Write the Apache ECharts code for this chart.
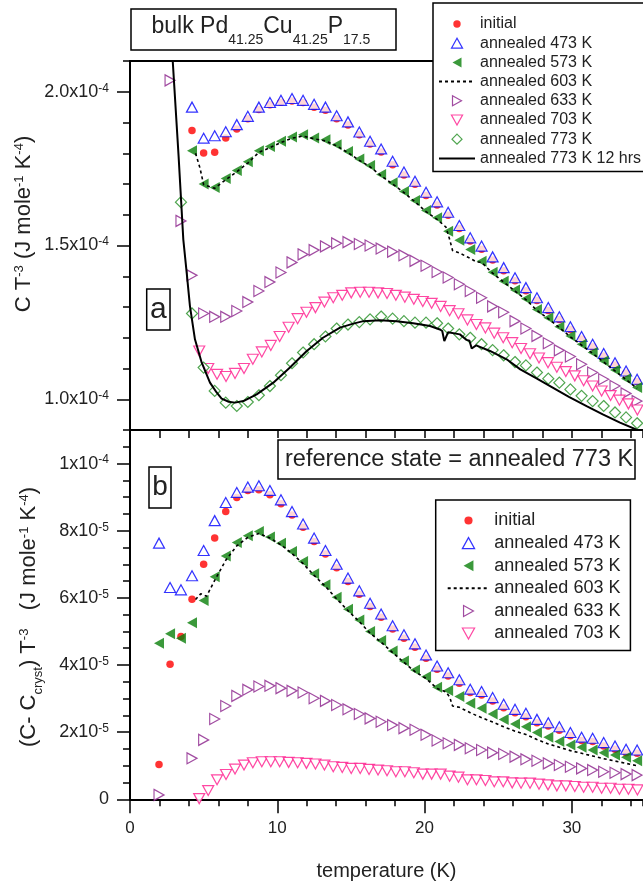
<!DOCTYPE html>
<html><head><meta charset="utf-8">
<script src="https://cdn.jsdelivr.net/npm/echarts@6/dist/echarts.min.js"></script>
<style>html,body{margin:0;padding:0;background:#fff}#c{width:643px;height:887px}</style>
</head><body><div id="c"></div><script>
// ---------- DATA ----------
// temperature grid (K) for most series
const T = [1.97, 2.72, 3.46, 4.21, 5.00, 5.75, 6.50, 7.25, 8.00, 8.75, 9.50, 10.25, 11.00, 11.75, 12.50, 13.27, 14.03, 14.80, 15.57, 16.30, 17.05, 17.83, 18.60, 19.35, 20.10, 20.85, 21.60, 22.36, 23.10, 23.87, 24.62, 25.37, 26.14, 26.88, 27.63, 28.40, 29.15, 29.90, 30.66, 31.41, 32.16, 32.93, 33.68, 34.43];
// temperature grid (K) for annealed 703 K
const Tp = [4.70,5.31,5.91,6.52,7.13,7.74,8.34,8.95,9.56,10.16,10.77,11.38,11.98,12.59,13.20,13.80,14.41,15.02,15.63,16.23,16.84,17.45,18.05,18.66,19.27,19.88,20.48,21.09,21.70,22.30,22.91,23.52,24.13,24.73,25.34,25.95,26.55,27.16,27.77,28.38,28.98,29.59,30.20,30.80,31.41,32.02,32.63,33.23,33.84,34.45];

// panel a : C T^-3 in units of 1e-4 J mole^-1 K^-4
const aInitial = [null,null,null,1.874,1.801,1.803,1.850,1.879,1.912,1.942,1.958,1.966,1.970,1.965,1.950,1.940,1.912,1.892,1.860,1.830,1.804,1.763,1.729,1.699,1.663,1.632,1.598,1.555,1.515,1.488,1.453,1.418,1.385,1.353,1.321,1.289,1.259,1.227,1.196,1.171,1.141,1.111,1.085,1.058];
const aA473 = [null,null,null,1.950,1.849,1.857,1.870,1.893,1.920,1.950,1.965,1.972,1.978,1.972,1.959,1.950,1.922,1.902,1.869,1.839,1.814,1.774,1.739,1.709,1.673,1.642,1.608,1.565,1.525,1.498,1.463,1.428,1.395,1.363,1.330,1.298,1.268,1.236,1.204,1.179,1.149,1.119,1.092,1.065];
const aA573 = [null,null,null,1.808,1.700,1.689,1.718,1.744,1.772,1.808,1.822,1.839,1.853,1.860,1.850,1.844,1.828,1.806,1.781,1.760,1.731,1.704,1.676,1.646,1.614,1.590,1.546,1.517,1.487,1.449,1.413,1.384,1.355,1.327,1.292,1.265,1.236,1.206,1.179,1.152,1.124,1.095,1.067,1.038];
const aT603 = [4.45,4.75,5.00,5.75,6.50,7.25,8.00,8.75,9.50,10.25,11.00,11.75,12.50,13.27,14.03,14.80,15.57,16.30,17.05,17.83,18.60,19.35,20.10,20.85,21.45,21.70,21.90,22.36,23.10,23.50,23.87,24.62,25.37,26.14,26.88,27.63,28.40,29.15,29.90,30.66,31.41,32.16,32.93,33.68,34.43];
const aA603 = [1.800,1.752,1.698,1.686,1.714,1.740,1.768,1.803,1.818,1.835,1.849,1.856,1.847,1.840,1.824,1.802,1.777,1.756,1.727,1.700,1.672,1.642,1.610,1.585,1.560,1.520,1.484,1.476,1.458,1.447,1.445,1.410,1.381,1.352,1.324,1.289,1.262,1.233,1.203,1.176,1.149,1.121,1.092,1.064,1.035];
const aA633 = [null,2.037,1.580,1.403,1.279,1.268,1.268,1.287,1.316,1.352,1.381,1.412,1.445,1.471,1.485,1.497,1.507,1.511,1.505,1.500,1.490,1.480,1.468,1.450,1.434,1.414,1.396,1.374,1.352,1.330,1.302,1.283,1.254,1.230,1.206,1.182,1.159,1.139,1.114,1.087,1.065,1.043,1.019,0.994];
const aA703 = [1.157,1.100,1.081,1.074,1.084,1.100,1.130,1.154,1.175,1.204,1.234,1.262,1.283,1.298,1.316,1.330,1.338,1.346,1.348,1.348,1.346,1.344,1.338,1.332,1.325,1.318,1.312,1.302,1.288,1.278,1.258,1.243,1.232,1.215,1.200,1.184,1.165,1.148,1.134,1.119,1.104,1.090,1.076,1.060,1.043,1.027,1.012,0.997,0.985,0.965];
const aA773 = [null,null,1.641,1.279,1.103,1.027,0.989,0.978,0.991,1.013,1.043,1.078,1.117,1.152,1.179,1.204,1.230,1.243,1.251,1.260,1.269,1.262,1.254,1.249,1.249,1.247,1.230,1.211,1.200,1.179,1.160,1.143,1.121,1.110,1.087,1.067,1.054,1.032,1.011,0.994,0.978,0.957,0.941,0.922];
const aT773h = [2.85,3.30,3.62,3.85,4.07,4.41,4.87,5.43,5.88,6.22,6.70,7.13,7.70,8.60,9.73,10.86,12.00,13.10,14.26,15.16,15.84,16.97,18.10,19.23,20.37,21.04,21.20,21.34,21.60,22.40,22.85,23.05,23.20,23.50,24.44,25.57,26.50,27.60,28.70,29.80,31.00,32.10,33.27,34.60,35.50];
const aA773h = [2.14,1.79,1.519,1.411,1.303,1.195,1.119,1.054,1.022,1.002,0.992,0.989,0.994,1.016,1.054,1.103,1.157,1.200,1.233,1.246,1.254,1.257,1.254,1.247,1.238,1.227,1.222,1.189,1.218,1.211,1.193,1.190,1.165,1.175,1.157,1.130,1.097,1.068,1.038,1.008,0.978,0.951,0.924,0.897,0.876];

// panel b : (C - Ccryst) T^-3 in units of 1e-5 J mole^-1 K^-4
const bInitial = [1.04,4.02,4.85,5.96,7.00,7.78,8.57,8.99,9.20,9.22,9.07,8.80,8.47,8.10,7.68,7.31,6.90,6.49,6.11,5.74,5.42,5.07,4.80,4.53,4.20,3.87,3.67,3.46,3.18,3.11,2.93,2.73,2.58,2.46,2.28,2.18,2.06,1.89,1.75,1.72,1.59,1.49,1.39,1.37];
const bA473 = [7.63,6.31,6.24,6.66,7.41,8.30,8.84,9.14,9.30,9.34,9.20,8.92,8.57,8.20,7.78,7.41,7.00,6.59,6.21,5.84,5.52,5.17,4.90,4.63,4.30,3.97,3.77,3.56,3.28,3.21,3.03,2.83,2.68,2.56,2.38,2.28,2.16,1.99,1.85,1.82,1.69,1.59,1.49,1.47];
const bA573 = [4.65,4.93,4.80,5.26,5.92,6.63,7.25,7.65,7.85,7.98,7.81,7.63,7.38,7.08,6.72,6.39,6.02,5.66,5.34,5.00,4.73,4.42,4.12,3.85,3.65,3.34,3.24,3.06,2.86,2.71,2.54,2.38,2.24,2.16,1.99,1.85,1.72,1.62,1.55,1.47,1.39,1.32,1.25,1.15];
const bT603 = [4.45,4.80,5.20,5.75,6.50,7.25,8.00,8.75,9.50,10.25,11.00,11.75,12.50,13.27,14.03,14.80,15.57,16.30,17.05,17.83,18.60,19.35,20.10,20.85,21.45,21.70,21.90,22.36,23.10,23.50,24.62,25.37,26.14,26.88,27.63,28.40,29.15,29.90,30.66,31.41,32.16,32.93,33.68,34.43];
const bA603 = [5.95,6.12,6.05,6.52,7.12,7.55,7.80,7.92,7.78,7.58,7.32,7.02,6.67,6.34,5.97,5.62,5.29,4.95,4.68,4.37,4.08,3.80,3.60,3.30,3.20,3.05,2.78,2.74,2.58,2.50,2.30,2.16,2.03,1.93,1.78,1.65,1.55,1.45,1.37,1.29,1.21,1.14,1.07,1.00];
const bA633 = [0.13,null,null,1.22,1.77,2.39,2.78,3.08,3.26,3.36,3.38,3.31,3.23,3.18,3.01,2.93,2.81,2.68,2.54,2.41,2.31,2.21,2.12,2.07,1.92,1.75,1.67,1.62,1.52,1.47,1.39,1.35,1.27,1.19,1.15,1.07,1.02,0.97,0.92,0.87,0.82,0.79,0.75,0.72];
const bA703 = [0.02,0.26,0.58,0.74,0.90,1.02,1.09,1.12,1.12,1.12,1.10,1.09,1.07,1.05,1.02,0.97,0.95,0.92,0.92,0.89,0.87,0.85,0.82,0.82,0.79,0.75,0.75,0.75,0.69,0.66,0.58,0.58,0.56,0.52,0.52,0.49,0.48,0.48,0.45,0.43,0.40,0.40,0.38,0.36,0.36,0.33,0.33,0.30,0.30,0.28];

// tick values / labels
const xTicks = [0, 10, 20, 30];
const yTopMajor = [1.0, 1.5, 2.0];
const yTopLabels = ['1.0x10|-4', '1.5x10|-4', '2.0x10|-4'];
const yBotMajor = [0, 2, 4, 6, 8, 10];
const yBotLabels = ['0', '2x10|-5', '4x10|-5', '6x10|-5', '8x10|-5', '1x10|-4'];

const names = ['initial', 'annealed 473 K', 'annealed 573 K', 'annealed 603 K', 'annealed 633 K', 'annealed 703 K', 'annealed 773 K', 'annealed 773 K 12 hrs'];

// ---------- STYLE ----------
const XMAX = 34.83; // visible right edge of the plot (the frame is cut by the picture)
const FONT = '"Liberation Sans", Arial, Helvetica, sans-serif';
const TXT = '#222';
const C_RED = '#ff0000', C_BLUE = '#0000ff', C_GREEN = '#0a800a', C_PURPLE = '#8a1f8a', C_PINK = '#ff1a8c', C_DIAM = '#238f23';
const S_UP = 'path://M0,9L5,0L10,9Z';
const S_DOWN = 'path://M0,0L10,0L5,9Z';
const S_LEFT = 'path://M9,0L9,10L0,5Z';
const S_RIGHT = 'path://M0,0L9,5L0,10Z';
const S_DIAM = 'path://M5,0L10,5L5,10L0,5Z';
const ICON_DOT = 'path://M0,0M10,10M1.3,5A3.7,3.7,0,1,1,8.7,5A3.7,3.7,0,1,1,1.3,5Z';

function pairs(xs, ys) { const out = []; for (let i = 0; i < xs.length; i++) if (ys[i] != null) out.push([xs[i], ys[i]]); return out; }
function sc(name, panel, data, sym, size, color, filled) {
  return { type: 'scatter', name, xAxisIndex: panel ? 2 : 0, yAxisIndex: panel ? 2 : 0, data, symbol: sym, symbolSize: size,
    itemStyle: filled ? { color } : { color: '#fff', borderColor: color, borderWidth: 1.2 },
    emphasis: { disabled: true }, silent: true };
}
function ln(name, panel, data, type, width) {
  return { type: 'line', name, xAxisIndex: panel ? 2 : 0, yAxisIndex: panel ? 2 : 0, data, symbol: 'none', showSymbol: false,
    color: '#000', itemStyle: { color: '#000', opacity: 0 }, lineStyle: { color: '#000', width, type },
    emphasis: { disabled: true }, silent: true };
}
const axLine = { show: true, onZero: false, lineStyle: { color: '#000', width: 2 } };
const tkLine = { color: '#000', width: 1.5 };
const labRich = { b: { fontSize: 18, color: TXT, fontFamily: FONT }, p: { fontSize: 12, color: TXT, fontFamily: FONT, padding: [0, 0, 7, 0] } };
function richLab(str) { const parts = str.split('|'); return parts.length > 1 ? '{b|' + parts[0] + '}{p|' + parts[1] + '}' : '{b|' + parts[0] + '}'; }

const series = [
  sc(names[0], 0, pairs(T, aInitial), 'circle', 7.5, C_RED, true),
  sc(names[1], 0, pairs(T, aA473), S_UP, [11, 10], C_BLUE, false),
  sc(names[2], 0, pairs(T, aA573), S_LEFT, [10, 11], C_GREEN, true),
  ln(names[3], 0, pairs(aT603, aA603), [3, 3], 1.6),
  sc(names[4], 0, pairs(T, aA633), S_RIGHT, [10, 11], C_PURPLE, false),
  sc(names[5], 0, pairs(Tp, aA703), S_DOWN, [11, 10], C_PINK, false),
  sc(names[6], 0, pairs(T, aA773), S_DIAM, 11, C_DIAM, false),
  ln(names[7], 0, pairs(aT773h, aA773h), 'solid', 2),
  sc(names[0], 1, pairs(T, bInitial), 'circle', 7.5, C_RED, true),
  sc(names[1], 1, pairs(T, bA473), S_UP, [11, 10], C_BLUE, false),
  sc(names[2], 1, pairs(T, bA573), S_LEFT, [10, 11], C_GREEN, true),
  ln(names[3], 1, pairs(bT603, bA603), [3, 3], 1.6),
  sc(names[4], 1, pairs(T, bA633), S_RIGHT, [10, 11], C_PURPLE, false),
  sc(names[5], 1, pairs(Tp, bA703), S_DOWN, [11, 10], C_PINK, false)
];

function legendData(list) { return list.map(n => n === 'initial' ? { name: n, icon: ICON_DOT } : { name: n }); }

const option = {
  animation: false,
  backgroundColor: '#fff',
  textStyle: { fontFamily: FONT },
  grid: [
    { left: 130, top: 61, right: 0, height: 369 },
    { left: 130, top: 430, right: 0, height: 369.3 }
  ],
  xAxis: [
    { gridIndex: 0, type: 'value', min: 0, max: XMAX, interval: 2, position: 'bottom', axisLine: axLine,
      axisTick: { show: true, length: 8, lineStyle: tkLine }, axisLabel: { show: false }, splitLine: { show: false } },
    { gridIndex: 0, type: 'value', min: 0, max: XMAX, position: 'top', axisLine: axLine, axisTick: { show: false },
      axisLabel: { show: false }, splitLine: { show: false } },
    { gridIndex: 1, type: 'value', min: 0, max: XMAX, interval: 10, position: 'bottom', axisLine: axLine,
      axisTick: { show: true, length: 14, lineStyle: tkLine },
      axisLabel: { fontSize: 17, color: TXT, fontFamily: FONT, margin: 21, showMaxLabel: false,
        formatter: v => (xTicks.indexOf(v) >= 0 ? String(v) : '') },
      splitLine: { show: false } },
    { gridIndex: 1, type: 'value', min: 0, max: XMAX, interval: 2, position: 'bottom', axisLine: { show: false },
      axisTick: { show: true, length: 7, lineStyle: tkLine }, axisLabel: { show: false }, splitLine: { show: false } }
  ],
  yAxis: [
    { gridIndex: 0, type: 'value', min: 0.9, max: 2.1, position: 'left', axisLine: axLine,
      axisTick: { show: true, length: 13, lineStyle: tkLine, customValues: yTopMajor },
      axisLabel: { customValues: yTopMajor, margin: 21, rich: labRich,
        formatter: v => { const i = yTopMajor.findIndex(m => Math.abs(m - v) < 1e-6); return i >= 0 ? richLab(yTopLabels[i]) : ''; } },
      splitLine: { show: false } },
    { gridIndex: 0, type: 'value', min: 0.9, max: 2.1, interval: 0.1, position: 'left', axisLine: { show: false },
      axisTick: { show: true, length: 7, lineStyle: tkLine }, axisLabel: { show: false }, splitLine: { show: false } },
    { gridIndex: 1, type: 'value', min: 0, max: 11, position: 'left', axisLine: axLine,
      axisTick: { show: true, length: 13, lineStyle: tkLine, customValues: yBotMajor },
      axisLabel: { customValues: yBotMajor, margin: 21, rich: labRich,
        formatter: v => { const i = yBotMajor.findIndex(m => Math.abs(m - v) < 1e-6); return i >= 0 ? richLab(yBotLabels[i]) : ''; } },
      splitLine: { show: false } },
    { gridIndex: 1, type: 'value', min: 0, max: 11, interval: 0.5, position: 'left', axisLine: { show: false },
      axisTick: { show: true, length: 7, lineStyle: tkLine }, axisLabel: { show: false }, splitLine: { show: false } }
  ],
  legend: [
    { data: legendData(names), orient: 'vertical', left: 433, top: 3, padding: [13, 3, 5, 5], itemWidth: 36, itemHeight: 10, itemGap: 3.2,
      backgroundColor: '#fff', borderColor: '#000', borderWidth: 1.5, selectedMode: false, z: 20,
      itemStyle: { borderWidth: 1.2 }, textStyle: { fontSize: 16, color: TXT, fontFamily: FONT } },
    { data: legendData(names.slice(0, 6)), orient: 'vertical', left: 435.7, top: 500, padding: [11.5, 10, 8, 11], itemWidth: 41.6, itemHeight: 11, itemGap: 4.6,
      backgroundColor: '#fff', borderColor: '#000', borderWidth: 1.5, selectedMode: false, z: 20,
      itemStyle: { borderWidth: 1.2 }, textStyle: { fontSize: 18, color: TXT, fontFamily: FONT } }
  ],
  graphic: [
    { type: 'rect', z: 30, shape: { x: 131, y: 9, width: 265, height: 41 }, style: { fill: '#fff', stroke: '#000', lineWidth: 1.5 } },
    { type: 'text', z: 31, x: 151.5, y: 27, style: { text: '{m|bulk Pd}{s|41.25}{m|Cu}{s|41.25}{m|P}{s|17.5}', align: 'left', verticalAlign: 'middle',
      rich: { m: { fontSize: 23, fontFamily: FONT, fill: TXT }, s: { fontSize: 14, fontFamily: FONT, fill: TXT, padding: [26, 0, 0, 0] } } } },
    { type: 'rect', z: 30, shape: { x: 146.7, y: 289, width: 23.3, height: 41 }, style: { fill: '#fff', stroke: '#000', lineWidth: 1.5 } },
    { type: 'text', z: 31, x: 158.3, y: 309.6, style: { text: 'a', fontSize: 30, fontFamily: FONT, fill: TXT, align: 'center', verticalAlign: 'middle' } },
    { type: 'rect', z: 30, shape: { x: 149, y: 467, width: 22, height: 41 }, style: { fill: '#fff', stroke: '#000', lineWidth: 1.5 } },
    { type: 'text', z: 31, x: 160, y: 487, style: { text: 'b', fontSize: 28, fontFamily: FONT, fill: TXT, align: 'center', verticalAlign: 'middle' } },
    { type: 'rect', z: 30, shape: { x: 278, y: 440, width: 357, height: 39 }, style: { fill: '#fff', stroke: '#000', lineWidth: 1.5 } },
    { type: 'text', z: 31, x: 285, y: 459.3, style: { text: 'reference state = annealed 773 K', fontSize: 23.5, fontFamily: FONT, fill: TXT, align: 'left', verticalAlign: 'middle' } },
    { type: 'text', z: 31, x: 24, y: 224, rotation: Math.PI / 2, style: { text: '{m|C T}{p|-3}{m| (J mole}{p|-1}{m| K}{p|-4}{m|)}', align: 'center', verticalAlign: 'middle',
      rich: { m: { fontSize: 22, fontFamily: FONT, fill: TXT }, p: { fontSize: 13, fontFamily: FONT, fill: TXT, padding: [0, 0, 10, 0] } } } },
    { type: 'text', z: 31, x: 29, y: 617, rotation: Math.PI / 2, style: { text: '{m|(C- C}{s|cryst}{m|) T}{p|-3}{m|   (J mole}{p|-1}{m| K}{p|-4}{m|)}', align: 'center', verticalAlign: 'middle',
      rich: { m: { fontSize: 22, fontFamily: FONT, fill: TXT }, p: { fontSize: 13, fontFamily: FONT, fill: TXT, padding: [0, 0, 10, 0] }, s: { fontSize: 13, fontFamily: FONT, fill: TXT, padding: [19, 0, 0, 0] } } } },
    { type: 'text', z: 31, x: 386.5, y: 871, style: { text: 'temperature (K)', fontSize: 20, fontFamily: FONT, fill: TXT, align: 'center', verticalAlign: 'middle' } }
  ],
  series
};
const chart = echarts.init(document.getElementById('c'), null, { renderer: 'canvas', width: 643, height: 887 });
chart.setOption(option);
</script></body></html>
